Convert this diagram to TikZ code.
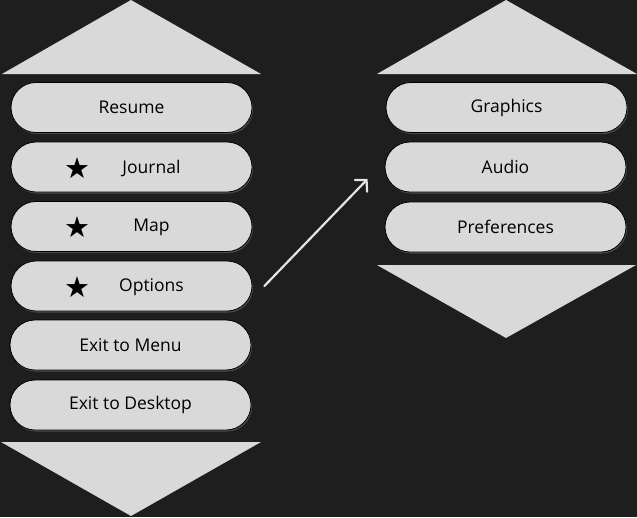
\documentclass[tikz,border=0pt]{standalone}
\usepackage{fontspec}
\setmainfont{Open Sans}
\newfontfamily\symfont{DejaVu Sans}
\usetikzlibrary{shadows,arrows.meta}
\definecolor{bgdark}{HTML}{1E1E1E}
\definecolor{btngray}{HTML}{D9D9D9}
\definecolor{arrowgray}{HTML}{E4E4E4}
\tikzset{
	menubtn/.style={draw=black, line width=0.8pt, fill=btngray, rounded corners=25pt,
		minimum width=241pt, minimum height=50pt, inner sep=0pt, text=black,
		font=\fontsize{17.5}{18}\selectfont,
		drop shadow={shadow xshift=1pt, shadow yshift=-1.5pt, opacity=0.45}},
	btnlabel/.style={inner sep=0pt, text=black, font=\fontsize{17.5}{18}\selectfont},
	starmark/.style={inner sep=0pt, font=\symfont\fontsize{29}{29}\selectfont},
	menutri/.style={fill=btngray},
}

\begin{document}
\begin{tikzpicture}[x=1pt, y=-1pt]
			%%%%% START %%%%%
			
			\fill[bgdark] (0, 0) rectangle (637, 517);
			\useasboundingbox (0, 0) rectangle (637, 517);
			
			% main menu
			\fill[menutri] (2, 74) -- (131, 0) -- (261, 74) -- cycle;
			
			\node[menubtn] (resume) at (131.5, 107.5) {Resume};
			
			\node[menubtn] (journal) at (131.5, 167) {};
			\node[starmark] at ([xshift=-54pt, yshift=-1pt]journal.center) {★};
			\node[btnlabel] at ([xshift=20pt, yshift=-1pt]journal.center) {Journal};
			
			\node[menubtn] (map) at (131.5, 226.5) {};
			\node[starmark] at ([xshift=-54pt, yshift=-1pt]map.center) {★};
			\node[btnlabel] at ([xshift=20pt, yshift=-1pt]map.center) {Map};
			
			\node[menubtn] (options) at (131.5, 286) {};
			\node[starmark] at ([xshift=-54pt, yshift=-1pt]options.center) {★};
			\node[btnlabel] at ([xshift=20pt, yshift=-1pt]options.center) {Options};
			
			\node[menubtn] (exitmenu) at (130.5, 345) {Exit to Menu};
			\node[menubtn] (exitdesk) at (130.5, 405) {Exit to Desktop};
			
			\fill[menutri] (1, 442) -- (261, 442) -- (131, 516) -- cycle;
			
			% options submenu
			\fill[menutri] (377, 74) -- (506, 0) -- (637, 74) -- cycle;
			
			\node[menubtn] (graphics) at (506.5, 107.5) {Graphics};
			\node[menubtn] (audio) at (505.5, 167) {Audio};
			\node[menubtn] (prefs) at (505.5, 227) {Preferences};
			
			\fill[menutri] (377, 265) -- (636, 265) -- (506, 338) -- cycle;
			
			% arrow
			\coordinate (arrowfrom) at ([xshift=12pt]options.east);
			\coordinate (arrowto) at ([xshift=-17pt, yshift=-12pt]audio.west);
			\draw[arrowgray, line width=2.2pt, line cap=round,
				-{Straight Barb[length=8pt, width=17pt, line cap=round]}] (arrowfrom) -- (arrowto);
			
			%%%%% END %%%%%
		\end{tikzpicture}
\end{document}
